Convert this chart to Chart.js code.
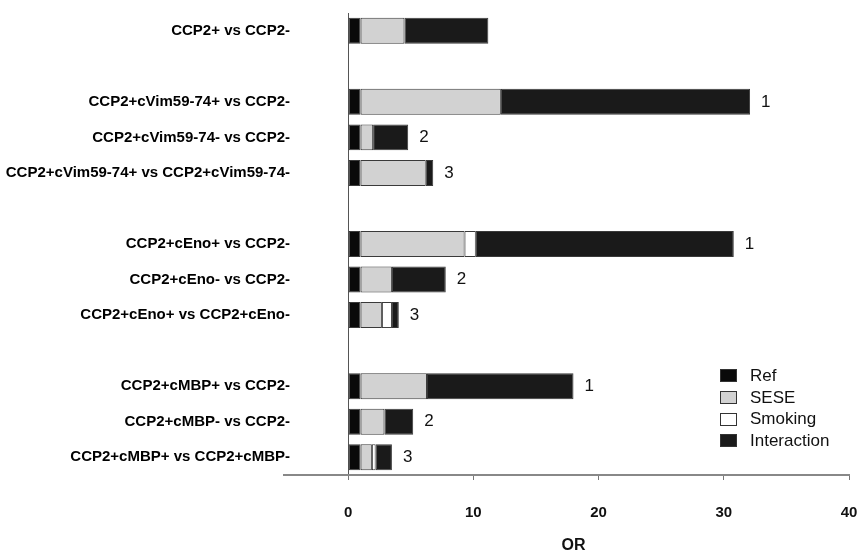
<!DOCTYPE html>
<html>
<head>
<meta charset="utf-8">
<script src="https://cdn.jsdelivr.net/npm/chart.js@4.4.1/dist/chart.umd.min.js"></script>
<style>
  html, body { margin: 0; padding: 0; background: #fff; }
  #wrap { position: relative; width: 861px; height: 555px; }
  #legend { position: absolute; left: 720px; top: 365px; font: 17px "Liberation Sans", Arial, sans-serif; color: #111; }
  #legend .item { height: 21.7px; display: flex; align-items: center; }
  #legend .box { width: 17px; height: 13px; box-sizing: border-box; border: 1px solid #333; margin-right: 13px; }
</style>
</head>
<body>
<div id="wrap">
  <canvas id="chart" width="861" height="555"></canvas>
  <div id="legend"></div>
</div>
<script>
// empty strings leave a gap row between the antibody groups
const categories = [
  'CCP2+ vs CCP2-',
  '',
  'CCP2+cVim59-74+ vs CCP2-',
  'CCP2+cVim59-74- vs CCP2-',
  'CCP2+cVim59-74+ vs CCP2+cVim59-74-',
  '',
  'CCP2+cEno+ vs CCP2-',
  'CCP2+cEno- vs CCP2-',
  'CCP2+cEno+ vs CCP2+cEno-',
  '',
  'CCP2+cMBP+ vs CCP2-',
  'CCP2+cMBP- vs CCP2-',
  'CCP2+cMBP+ vs CCP2+cMBP-'
];

// stacked OR contributions
const refValues         = [1,   null, 1,    1,   1,   null, 1,    1,   1,    null, 1,    1,   1];
const seseValues        = [3.5, null, 11.2, 1.0, 5.2, null, 8.3,  2.5, 1.7,  null, 5.3,  1.9, 0.9];
const smokingValues     = [0,   null, 0,    0,   0,   null, 0.9,  0,   0.8,  null, 0,    0,   0.3];
const interactionValues = [6.7, null, 19.9, 2.8, 0.6, null, 20.6, 4.3, 0.55, null, 11.7, 2.3, 1.3];

// comparison number printed after each bar
const comparisonMarks = ['', '', '1', '2', '3', '', '1', '2', '3', '', '1', '2', '3'];

const xTickStep = 10;
const xMin = -4;   // leaves room left of zero, as the axis line runs past it
const xMax = 40;

const seriesNames  = ['Ref', 'SESE', 'Smoking', 'Interaction'];
const seriesColors = ['#0a0a0a', '#d2d2d2', '#ffffff', '#1a1a1a'];
const seriesData   = [refValues, seseValues, smokingValues, interactionValues];

const endMarks = {
  id: 'endMarks',
  afterDatasetsDraw(chart) {
    const meta = chart.getDatasetMeta(chart.data.datasets.length - 1);
    const ctx = chart.ctx;
    const area = chart.chartArea;
    ctx.save();
    // the OR axis line reaches a little under the row labels
    ctx.strokeStyle = '#888';
    ctx.lineWidth = 2;
    ctx.beginPath();
    ctx.moveTo(area.left - 15, area.bottom);
    ctx.lineTo(area.left, area.bottom);
    ctx.stroke();

    ctx.font = '17px "Liberation Sans", Arial, sans-serif';
    ctx.fillStyle = '#111';
    ctx.textBaseline = 'middle';
    meta.data.forEach((bar, i) => {
      if (!comparisonMarks[i]) return;
      ctx.fillText(comparisonMarks[i], bar.x + 11, bar.y);
    });
    ctx.restore();
  }
};

const chart = new Chart(document.getElementById('chart'), {
  type: 'bar',
  data: {
    labels: categories,
    datasets: seriesNames.map((name, i) => ({
      label: name,
      data: seriesData[i],
      backgroundColor: seriesColors[i],
      borderColor: '#3a3a3a',
      borderWidth: 1,
      borderSkipped: false,
      barPercentage: 0.73,
      categoryPercentage: 1
    }))
  },
  options: {
    indexAxis: 'y',
    responsive: false,
    animation: false,
    layout: { padding: { top: 13, right: 12, bottom: 0, left: 0 } },
    plugins: {
      legend: { display: false },
      tooltip: { enabled: false }
    },
    scales: {
      x: {
        stacked: true,
        min: xMin,
        max: xMax,
        afterFit: scale => {
          scale.height = 80;
          scale.paddingLeft = 0;
          scale.paddingRight = 0;
        },
        ticks: {
          stepSize: xTickStep,
          includeBounds: false,
          maxRotation: 0,
          padding: 24,
          color: '#111',
          font: { family: '"Liberation Sans", Arial, sans-serif', size: 15, weight: 'bold' }
        },
        grid: {
          // only the zero line is shown, acting as the category axis
          color: c => (c.tick && c.tick.value === 0 ? '#555' : 'rgba(0,0,0,0)'),
          tickColor: '#777',
          tickLength: 5
        },
        border: { color: '#888', width: 2 },
        title: {
          display: true,
          text: 'OR',
          color: '#111',
          padding: { top: 0, bottom: 0 },
          font: { family: '"Liberation Sans", Arial, sans-serif', size: 16, weight: 'bold' }
        }
      },
      y: {
        stacked: true,
        afterFit: scale => { scale.width = 298; },
        grid: { display: false },
        border: { display: false },
        ticks: {
          padding: 0,
          color: '#000',
          autoSkip: false,
          font: { family: '"Liberation Sans", Arial, sans-serif', size: 15, weight: 'bold' }
        }
      }
    }
  },
  plugins: [endMarks]
});

// legend built from the datasets
const legendEl = document.getElementById('legend');
chart.data.datasets.forEach(ds => {
  const item = document.createElement('div');
  item.className = 'item';
  const box = document.createElement('span');
  box.className = 'box';
  box.style.background = ds.backgroundColor;
  item.appendChild(box);
  item.appendChild(document.createTextNode(ds.label));
  legendEl.appendChild(item);
});
</script>
</body>
</html>
